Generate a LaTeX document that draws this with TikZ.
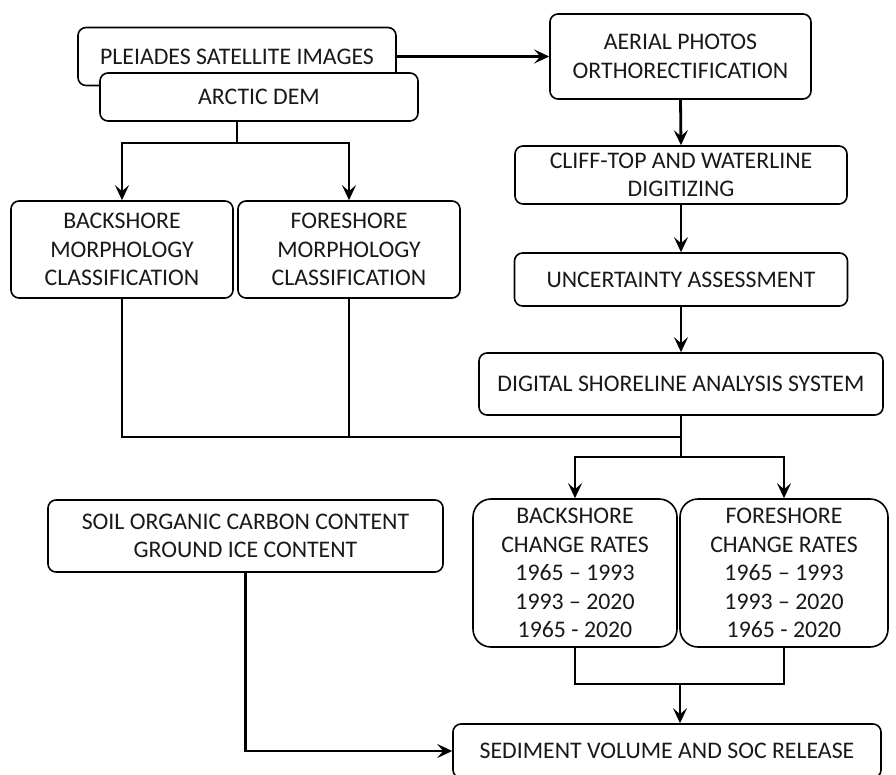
\documentclass[tikz,border=0pt]{standalone}
\usepackage{fontspec}
\setmainfont{Carlito}
\usetikzlibrary{arrows.meta}
\begin{document}
\begin{tikzpicture}[x=1pt,y=-1pt,
  box/.style={draw=black, line width=1.6pt, rounded corners=8pt, fill=white,
    align=center, inner sep=0pt, font=\fontsize{23.8}{28.5}\selectfont, text=black!90},
  bigbox/.style={box, rounded corners=18pt},
  conn/.style={line width=2.8pt, line join=miter},
  arr/.style={conn, -{Stealth[length=15pt, width=14pt, inset=6pt]}}
]
\clip (0,0) rectangle (896,775);
\fill[white] (0,0) rectangle (896,775);

\node[box, minimum width=318pt, minimum height=58pt] (pleiades) at (237,56.5) {PLEIADES SATELLITE IMAGES};
\node[box, minimum width=318pt, minimum height=48pt] (arctic) at (259,97) {ARCTIC DEM};
\node[box, minimum width=261pt, minimum height=85pt] (aerial) at (680.5,56.5) {AERIAL PHOTOS\\ORTHORECTIFICATION};
\node[box, minimum width=332pt, minimum height=58pt] (cliff) at (681,175) {CLIFF-TOP AND WATERLINE\\DIGITIZING};
\node[box, minimum width=333pt, minimum height=53pt] (uncert) at (681,279.5) {UNCERTAINTY ASSESSMENT};
\node[box, minimum width=404pt, minimum height=62pt] (dsas) at (681,384) {DIGITAL SHORELINE ANALYSIS SYSTEM};
\node[box, minimum width=222pt, minimum height=97pt] (backm) at (122,249.5) {BACKSHORE\\MORPHOLOGY\\CLASSIFICATION};
\node[box, minimum width=222pt, minimum height=97pt] (forem) at (349,249.5) {FORESHORE\\MORPHOLOGY\\CLASSIFICATION};
\node[box, minimum width=395pt, minimum height=72pt] (soil) at (245.5,536) {SOIL ORGANIC CARBON CONTENT\\GROUND ICE CONTENT};
\node[bigbox, minimum width=204pt, minimum height=148pt] (backc) at (575,573) {BACKSHORE\\CHANGE RATES\\1965 – 1993\\1993 – 2020\\1965 - 2020};
\node[bigbox, minimum width=208pt, minimum height=148pt] (forec) at (784,573) {FORESHORE\\CHANGE RATES\\1965 – 1993\\1993 – 2020\\1965 - 2020};
\node[box, minimum width=428pt, minimum height=54pt] (sed) at (667,751) {SEDIMENT VOLUME AND SOC RELEASE};

\coordinate (split1) at (237,143);
\coordinate (join) at (681,437);
\coordinate (split2) at (681,457);
\coordinate (merge) at (680,684);

\draw[arr] (pleiades.east) -- (aerial.west);
\draw[conn] (arctic.south -| split1) -- (split1);
\draw[arr] (split1) -| (backm.north);
\draw[arr] (split1) -| (forem.north);
\draw[arr] (aerial.south) -- (cliff.north);
\draw[arr] (cliff.south) -- (uncert.north);
\draw[arr] (uncert.south) -- (dsas.north);
\draw[conn] (backm.south) |- (join);
\draw[conn] (forem.south) -- (forem.south |- join);
\draw[conn] (dsas.south) -- (split2);
\draw[arr] (split2) -| (backc.north);
\draw[arr] (split2) -| (forec.north);
\draw[conn] (backc.south) |- (merge) -| (forec.south);
\draw[arr] (merge) -- (merge |- sed.north);
\draw[arr] (soil.south) |- (sed.west);
\end{tikzpicture}
\end{document}
